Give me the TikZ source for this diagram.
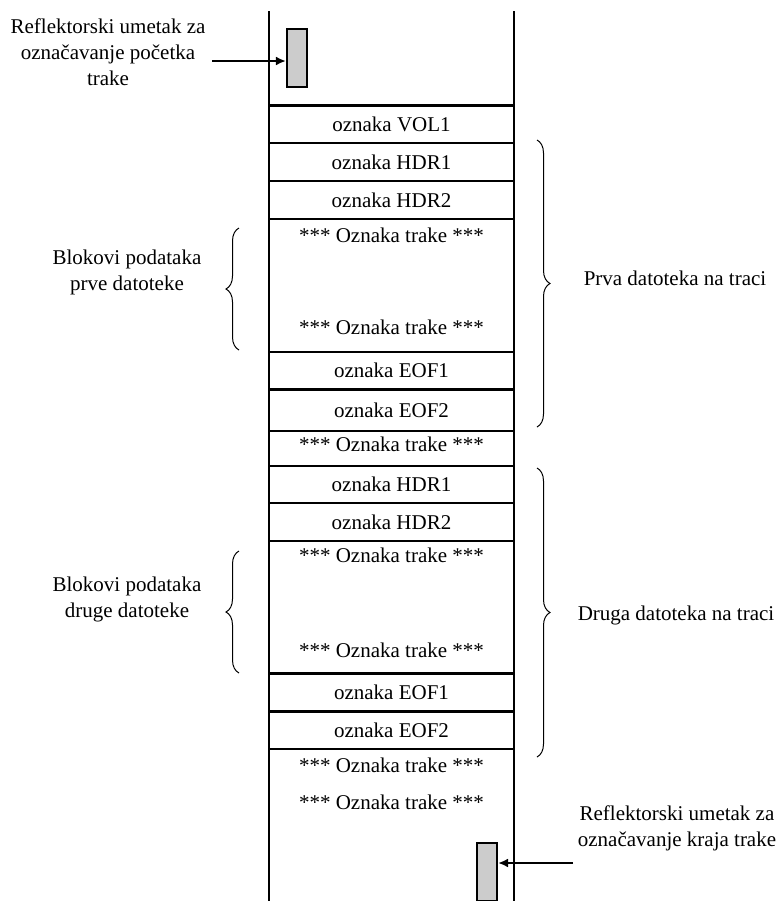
\documentclass[tikz,border=0pt]{standalone}
\usepackage{fontspec}
\setmainfont{Liberation Serif}
\usetikzlibrary{arrows.meta,decorations.pathreplacing}

\begin{document}
\begin{tikzpicture}[x=0.5pt, y=-0.5pt, black,
		tapeBox/.style={draw, line width=1.1pt, minimum width=122.5pt, inner sep=0pt, outer sep=0pt},
		reflBox/.style={draw, line width=1.1pt, fill=gray!40, minimum width=10pt, minimum height=29pt, inner sep=0pt},
		sideLabel/.style={align=center, inner sep=0pt},
		curly/.style={decorate, decoration={brace, amplitude=6.5pt}, line width=0.5pt},
		pointer/.style={-{Latex[length=5pt, width=4.5pt]}, line width=1pt}]
				\fontsize{10.5}{13}\selectfont
				
				\useasboundingbox (0,0) rectangle (778,901);
				
				% draw the two edges of the tape
				\draw[line width=1.2pt] (269,11) -- (269,901);
				\draw[line width=1.2pt] (514,11) -- (514,901);
				
				% draw the labels of the first file
				\node[tapeBox, minimum height=18.75pt] (vol) at (391.5,124.25) {oznaka VOL1};
				\node[tapeBox, minimum height=19pt] (hdrA1) at (391.5,162) {oznaka HDR1};
				\node[tapeBox, minimum height=19pt] (hdrA2) at (391.5,200) {oznaka HDR2};
				\node[tapeBox, minimum height=66.5pt] (dataA) at (391.5,285.5) {};
				\node (dataAtop) at (391.5,235) {*** Oznaka trake ***};
				\node (dataAbot) at (391.5,327) {*** Oznaka trake ***};
				\node[tapeBox, minimum height=18.75pt] (eofA1) at (391.5,370.75) {oznaka EOF1};
				\node[tapeBox, minimum height=20.75pt] (eofA2) at (391.5,410.25) {oznaka EOF2};
				\node[tapeBox, minimum height=17.5pt, text depth=4pt] (markA) at (391.5,448.5) {*** Oznaka trake ***};
				
				% draw the labels of the second file
				\node[tapeBox, minimum height=18.5pt] (hdrB1) at (391.5,484.5) {oznaka HDR1};
				\node[tapeBox, minimum height=19pt] (hdrB2) at (391.5,522) {oznaka HDR2};
				\node[tapeBox, minimum height=66.25pt] (dataB) at (391.5,607.25) {};
				\node (dataBtop) at (391.5,555) {*** Oznaka trake ***};
				\node (dataBbot) at (391.5,650) {*** Oznaka trake ***};
				\node[tapeBox, minimum height=19pt] (eofB1) at (391.5,692.5) {oznaka EOF1};
				\node[tapeBox, minimum height=18.75pt] (eofB2) at (391.5,730.25) {oznaka EOF2};
				\node (endMarkA) at (391.5,765) {*** Oznaka trake ***};
				\node (endMarkB) at (391.5,802) {*** Oznaka trake ***};
				
				% draw the reflective markers
				\node[reflBox] (reflTop) at (297,58) {};
				\node[reflBox] (reflEnd) at (487,872) {};
				\node[sideLabel] (startText) at (108,52) {Reflektorski umetak za\\označavanje početka\\trake};
				\node[sideLabel] (endText) at (677,828.5) {Reflektorski umetak za\\označavanje kraja trake};
				\coordinate (startFrom) at (212,61);
				\coordinate (endFrom) at (573,863);
				\draw[pointer] (startFrom) -- (startFrom -| reflTop.west);
				\draw[pointer] (endFrom) -- (endFrom -| reflEnd.east);
				
				% draw braces for the files and data blocks
				\draw[curly] (537,140) -- (537,427);
				\node[sideLabel] (firstFile) at (675,278) {Prva datoteka na traci};
				\draw[curly] (537,468) -- (537,757);
				\node[sideLabel] (secondFile) at (676,615) {Druga datoteka na traci};
				\draw[curly] (239,350) -- (239,228);
				\node[sideLabel] (firstData) at (127,272.5) {Blokovi podataka\\prve datoteke};
				\draw[curly] (239,673) -- (239,551);
				\node[sideLabel] (secondData) at (127,599) {Blokovi podataka\\druge datoteke};
			\end{tikzpicture}
\end{document}
